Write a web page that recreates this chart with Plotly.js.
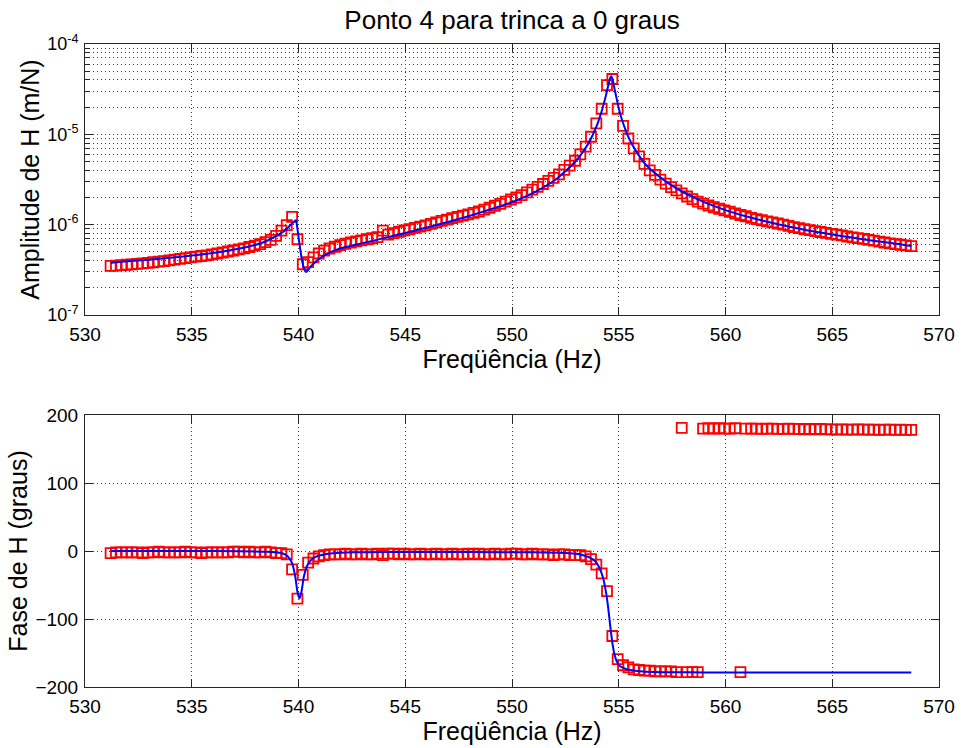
<!DOCTYPE html>
<html>
<head>
<meta charset="utf-8">
<script src="https://cdn.plot.ly/plotly-3.0.1.min.js"></script>
<style>
  html, body { margin: 0; padding: 0; background: #fff; }
  #chart { width: 963px; height: 748px; }
</style>
</head>
<body>
<div id="chart"></div>
<script>
// Measured frequencies (Hz)
const freq = [
  531.2, 531.45, 531.7, 531.95, 532.2, 532.45, 532.7, 532.95, 533.2, 533.45, 533.7, 533.95,
  534.2, 534.45, 534.7, 534.95, 535.2, 535.45, 535.7, 535.95, 536.2, 536.45, 536.7, 536.95,
  537.2, 537.45, 537.7, 537.95, 538.2, 538.45, 538.7, 538.95, 539.2, 539.45, 539.7, 539.95,
  540.2, 540.45, 540.7, 540.95, 541.2, 541.45, 541.7, 541.95, 542.2, 542.45, 542.7, 542.95,
  543.2, 543.45, 543.7, 543.95, 544.2, 544.45, 544.7, 544.95, 545.2, 545.45, 545.7, 545.95,
  546.2, 546.45, 546.7, 546.95, 547.2, 547.45, 547.7, 547.95, 548.2, 548.45, 548.7, 548.95,
  549.2, 549.45, 549.7, 549.95, 550.2, 550.45, 550.7, 550.95, 551.2, 551.45, 551.7, 551.95,
  552.2, 552.45, 552.7, 552.95, 553.2, 553.45, 553.7, 553.95, 554.2, 554.45, 554.7, 554.95,
  555.2, 555.45, 555.7, 555.95, 556.2, 556.45, 556.7, 556.95, 557.2, 557.45, 557.7, 557.95,
  558.2, 558.45, 558.7, 558.95, 559.2, 559.45, 559.7, 559.95, 560.2, 560.45, 560.7, 560.95,
  561.2, 561.45, 561.7, 561.95, 562.2, 562.45, 562.7, 562.95, 563.2, 563.45, 563.7, 563.95,
  564.2, 564.45, 564.7, 564.95, 565.2, 565.45, 565.7, 565.95, 566.2, 566.45, 566.7, 566.95,
  567.2, 567.45, 567.7, 567.95, 568.2, 568.45, 568.7
];

// Measured amplitude |H| (m/N)
const ampMeas = [
  3.50e-7, 3.53e-7, 3.56e-7, 3.60e-7, 3.64e-7, 3.68e-7, 3.73e-7, 3.78e-7, 3.84e-7, 3.90e-7, 3.96e-7, 4.03e-7,
  4.10e-7, 4.18e-7, 4.26e-7, 4.34e-7, 4.42e-7, 4.50e-7, 4.58e-7, 4.68e-7, 4.80e-7, 4.92e-7, 5.05e-7, 5.18e-7,
  5.32e-7, 5.48e-7, 5.66e-7, 5.86e-7, 6.10e-7, 6.40e-7, 6.80e-7, 7.50e-7, 8.60e-7, 9.90e-7, 1.22e-6, 6.90e-7,
  3.65e-7, 3.85e-7, 4.35e-7, 4.80e-7, 5.15e-7, 5.45e-7, 5.70e-7, 5.95e-7, 6.15e-7, 6.35e-7, 6.55e-7, 6.72e-7,
  6.90e-7, 7.08e-7, 7.28e-7, 8.60e-7, 7.75e-7, 8.05e-7, 8.35e-7, 8.65e-7, 8.90e-7, 9.20e-7, 9.50e-7, 9.85e-7,
  1.02e-6, 1.06e-6, 1.10e-6, 1.14e-6, 1.18e-6, 1.22e-6, 1.26e-6, 1.30e-6, 1.35e-6, 1.40e-6, 1.47e-6, 1.54e-6,
  1.62e-6, 1.70e-6, 1.80e-6, 1.90e-6, 2.00e-6, 2.12e-6, 2.28e-6, 2.45e-6, 2.62e-6, 2.82e-6, 3.05e-6, 3.30e-6,
  3.60e-6, 4.05e-6, 4.50e-6, 5.10e-6, 6.00e-6, 7.30e-6, 9.40e-6, 1.32e-5, 1.92e-5, 3.50e-5, 4.10e-5, 1.92e-5,
  1.24e-5, 9.00e-6, 7.00e-6, 5.70e-6, 4.70e-6, 4.00e-6, 3.55e-6, 3.15e-6, 2.85e-6, 2.60e-6, 2.40e-6, 2.22e-6,
  2.05e-6, 1.92e-6, 1.80e-6, 1.71e-6, 1.63e-6, 1.56e-6, 1.50e-6, 1.44e-6, 1.39e-6, 1.33e-6, 1.28e-6, 1.24e-6,
  1.19e-6, 1.15e-6, 1.12e-6, 1.09e-6, 1.06e-6, 1.03e-6, 1.00e-6, 9.70e-7, 9.40e-7, 9.15e-7, 8.90e-7, 8.70e-7,
  8.50e-7, 8.30e-7, 8.10e-7, 7.90e-7, 7.75e-7, 7.60e-7, 7.40e-7, 7.25e-7, 7.10e-7, 6.95e-7, 6.80e-7, 6.65e-7,
  6.50e-7, 6.35e-7, 6.20e-7, 6.10e-7, 6.00e-7, 5.90e-7, 5.80e-7
];

// Measured phase (graus)
const phaseMeas = [
  -3, -2, -2, -2, -2, -2, -3, -2, -2, -1, -2, -2,
  -2, -2, -1, -2, -2, -3, -2, -2, -2, -2, -2, -1,
  -1, -2, -1, -2, -2, -1, -2, -3, -3, -5, -27, -70,
  -35, -17, -11, -8, -6, -5, -5, -5, -4, -5, -5, -4,
  -5, -5, -4, -6, -4, -4, -5, -4, -5, -5, -4, -5,
  -5, -4, -5, -5, -4, -5, -5, -4, -5, -4, -5, -5,
  -4, -5, -5, -4, -4, -5, -5, -4, -5, -5, -5, -6,
  -5, -5, -6, -6, -6, -8, -12, -20, -33, -59, -125, -159,
  -168, -171, -174, -175, -176, -176, -177, -177, -177, -177, -178, 181,
  -178, -178, -178, 180, 180.5, 180, 180.5, 180, 180, 180.5, -178, 180,
  180, 180, 179.5, 180, 180, 179.5, 179.5, 180, 179.5, 179.5, 179, 179.5,
  179, 179.5, 179, 179, 178.5, 179, 178.5, 178.5, 179, 178.5, 178.5, 178.5,
  178, 178.5, 178.5, 178, 178.5, 178, 178
];

// Fitted model curve: amplitude
const fitAmpFreq = [
  531.2, 532, 533, 534, 535, 536, 537, 538, 538.5, 539, 539.3, 539.55, 539.75, 539.87, 539.95,
  540.05, 540.15, 540.25, 540.35, 540.45, 540.6, 540.8, 541, 541.3, 541.7, 542.2, 543, 544, 545,
  546, 547, 548, 549, 550, 551, 552, 552.5, 553, 553.4, 553.7, 554, 554.2, 554.4, 554.5, 554.6,
  554.65, 554.72, 554.8, 554.9, 555.0, 555.15, 555.3, 555.5, 555.8, 556.2, 556.7, 557.3, 558, 559,
  560, 561, 562, 563, 564, 565, 566, 567, 568, 568.7
];
const fitAmp = [
  3.8e-7, 3.95e-7, 4.1e-7, 4.3e-7, 4.55e-7, 4.85e-7, 5.3e-7, 6.0e-7, 6.6e-7, 7.6e-7, 8.4e-7, 9.5e-7, 1.06e-6, 1.12e-6, 9.0e-7,
  6.0e-7, 4.2e-7, 3.3e-7, 3.0e-7, 3.15e-7, 3.5e-7, 3.9e-7, 4.25e-7, 4.7e-7, 5.2e-7, 5.65e-7, 6.25e-7, 7.1e-7, 8.1e-7,
  9.3e-7, 1.07e-6, 1.25e-6, 1.48e-6, 1.78e-6, 2.25e-6, 3.1e-6, 3.9e-6, 5.1e-6, 6.8e-6, 9.0e-6, 1.3e-5, 1.8e-5, 2.7e-5, 3.4e-5, 4.2e-5,
  4.4e-5, 4.0e-5, 3.2e-5, 2.5e-5, 1.95e-5, 1.45e-5, 1.15e-5, 8.8e-6, 6.6e-6, 4.8e-6, 3.7e-6, 2.9e-6, 2.3e-6, 1.78e-6,
  1.45e-6, 1.23e-6, 1.07e-6, 9.5e-7, 8.5e-7, 7.8e-7, 7.15e-7, 6.6e-7, 6.15e-7, 5.8e-7
];

// Fitted model curve: phase
const fitPhaseFreq = [
  531.2, 536, 538.5, 539.2, 539.5, 539.7, 539.85, 539.95, 540.05, 540.15, 540.25, 540.4, 540.6, 540.85,
  541.2, 541.8, 542.5, 544, 548, 551, 552.5, 553.2, 553.6, 553.9, 554.1, 554.25, 554.4, 554.5, 554.6,
  554.7, 554.8, 554.9, 555.05, 555.3, 555.6, 556, 556.6, 557.5, 559, 563, 568.7
];
const fitPhase = [
  0, 0, -1, -3, -8, -18, -38, -60, -70, -58, -38, -22, -13, -8,
  -5, -3, -2, -1.5, -1.5, -2, -3, -5, -9, -15, -25, -38, -60, -82, -110,
  -135, -152, -162, -169, -173, -175.5, -177, -178, -178.3, -178.5, -178.5, -178.5
];

const xTicks = [530, 535, 540, 545, 550, 555, 560, 565, 570];
const ampTickVals = [1e-7, 1e-6, 1e-5, 1e-4];
const ampTickText = ['10<sup>-7</sup>', '10<sup>-6</sup>', '10<sup>-5</sup>', '10<sup>-4</sup>'];
const phaseTicks = [-200, -100, 0, 100, 200];

const FONT = 'Liberation Sans, Arial, Helvetica, sans-serif';
const AX_COL = '#262626';
const GRID_COL = '#3a3a3a';
const GRID_DASH = '1px,3px';

const markerStyle = { symbol: 'square-open', size: 10, color: '#ff0000', line: { width: 1.8, color: '#ff0000' } };
const lineStyle = { color: '#0000ff', width: 2, shape: 'spline', smoothing: 0.6 };

const traces = [
  { x: freq, y: ampMeas, xaxis: 'x', yaxis: 'y', type: 'scatter', mode: 'markers',
    marker: markerStyle, name: 'medido', showlegend: false },
  { x: fitAmpFreq, y: fitAmp, xaxis: 'x', yaxis: 'y', type: 'scatter', mode: 'lines',
    line: lineStyle, name: 'ajuste', showlegend: false },
  { x: freq, y: phaseMeas, xaxis: 'x2', yaxis: 'y2', type: 'scatter', mode: 'markers',
    marker: markerStyle, name: 'medido', showlegend: false },
  { x: fitPhaseFreq, y: fitPhase, xaxis: 'x2', yaxis: 'y2', type: 'scatter', mode: 'lines',
    line: lineStyle, name: 'ajuste', showlegend: false }
];

function xAxis(anchor, standoff) {
  return {
    anchor: anchor, domain: [0, 1], range: [530, 570], tickvals: xTicks, ticktext: xTicks.map(String),
    ticks: 'inside', ticklen: 8, tickwidth: 1, tickcolor: AX_COL,
    showline: true, linecolor: AX_COL, linewidth: 1, mirror: 'ticks',
    showgrid: true, gridcolor: GRID_COL, griddash: GRID_DASH, gridwidth: 1,
    zeroline: false, tickfont: { family: FONT, size: 19, color: '#000' },
    ticklabelstandoff: 2,
    title: { text: 'Freqüência (Hz)', font: { family: FONT, size: 25, color: '#000' }, standoff: standoff }
  };
}

const layout = {
  width: 963, height: 748,
  margin: { l: 85, r: 24, t: 44, b: 61 },
  paper_bgcolor: '#ffffff', plot_bgcolor: '#ffffff',
  font: { family: FONT, color: '#000' },
  showlegend: false,
  title: { text: 'Ponto 4 para trinca a 0 graus', font: { family: FONT, size: 26, color: '#000' },
           x: 0.5, xref: 'paper', xanchor: 'center', y: 0.973, yref: 'container', yanchor: 'middle' },
  xaxis: xAxis('y', 5),
  xaxis2: xAxis('y2', 4),
  yaxis: {
    domain: [0.5785, 1], anchor: 'x', type: 'log', range: [-7, -4],
    tickvals: ampTickVals, ticktext: ampTickText,
    ticks: 'inside', ticklen: 8, tickwidth: 1, tickcolor: AX_COL,
    showline: true, linecolor: AX_COL, linewidth: 1, mirror: 'ticks',
    showgrid: true, gridcolor: GRID_COL, griddash: GRID_DASH, gridwidth: 1,
    minor: { dtick: 'D1', ticks: 'inside', ticklen: 5, tickcolor: AX_COL,
             showgrid: true, gridcolor: GRID_COL, griddash: GRID_DASH, gridwidth: 1 },
    zeroline: false, tickfont: { family: FONT, size: 18, color: '#000' },
    ticklabelstandoff: 2,
    title: { text: 'Amplitude de H (m/N)', font: { family: FONT, size: 25, color: '#000' }, standoff: 0 }
  },
  yaxis2: {
    domain: [0, 0.4230], anchor: 'x2', range: [-200, 200], tickvals: phaseTicks,
    ticks: 'inside', ticklen: 8, tickwidth: 1, tickcolor: AX_COL,
    showline: true, linecolor: AX_COL, linewidth: 1, mirror: 'ticks',
    showgrid: true, gridcolor: GRID_COL, griddash: GRID_DASH, gridwidth: 1,
    zeroline: false, tickfont: { family: FONT, size: 19, color: '#000' },
    ticklabelstandoff: 2,
    title: { text: 'Fase de H (graus)', font: { family: FONT, size: 25, color: '#000' }, standoff: 0 }
  }
};

Plotly.newPlot('chart', traces, layout, { displayModeBar: false, staticPlot: true });
</script>
</body>
</html>
